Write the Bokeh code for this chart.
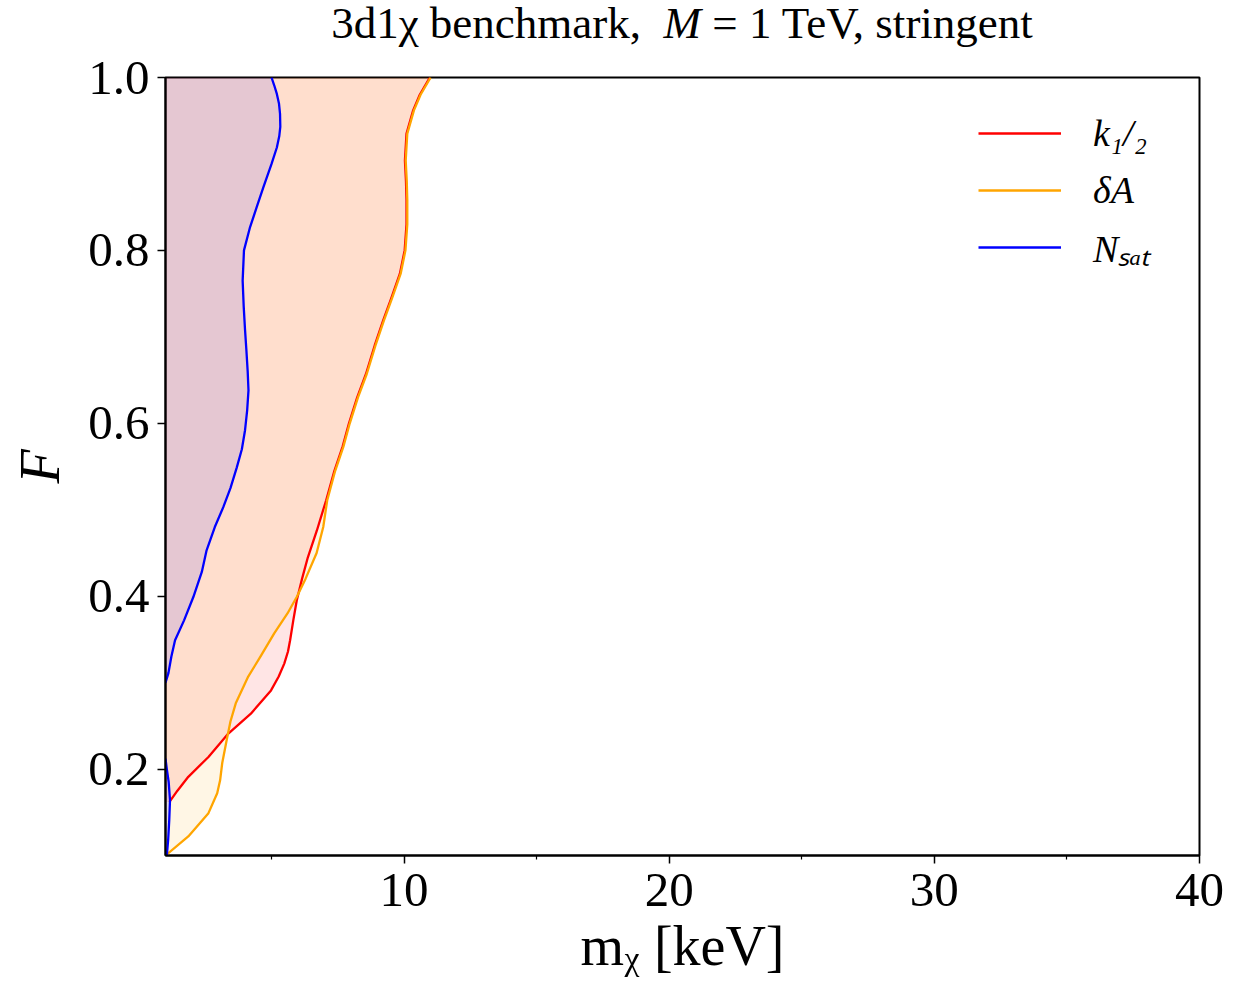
from bokeh.plotting import figure
from bokeh.layouts import column
from bokeh.models import Range1d, FixedTicker, PrintfTickFormatter, Legend, LegendItem, Div
from bokeh.embed import file_html
from bokeh.resources import INLINE

# ---- axis limits ----
m_min, m_max = 1.0, 40.0
F_min, F_max = 0.1, 1.0

# ---- N_sat contour (two branches) ----
nsat_F_upper = [0.300, 0.311, 0.330, 0.349, 0.372, 0.399, 0.428, 0.453, 0.480, 0.503,
                0.525, 0.549, 0.570, 0.592, 0.615, 0.638, 0.660, 0.685, 0.708, 0.735,
                0.765, 0.800, 0.827, 0.850, 0.873, 0.900, 0.919, 0.932, 0.943, 0.958,
                0.970, 0.981, 0.991, 1.000]
nsat_m_upper = [1.00, 1.11, 1.22, 1.36, 1.70, 2.05, 2.37, 2.55, 2.86, 3.18,
                3.45, 3.69, 3.88, 4.00, 4.08, 4.13, 4.10, 4.05, 4.00, 3.95,
                3.91, 3.96, 4.19, 4.44, 4.69, 5.00, 5.20, 5.29, 5.33, 5.32,
                5.28, 5.20, 5.10, 5.00]
nsat_F_lower = [0.100, 0.118, 0.140, 0.164, 0.185, 0.200, 0.212]
nsat_m_lower = [1.05, 1.10, 1.14, 1.17, 1.12, 1.05, 1.00]

# ---- k_{1/2} contour ----
k12_F = [0.162, 0.175, 0.191, 0.214, 0.241, 0.264, 0.291, 0.307, 0.322, 0.336,
         0.349, 0.372, 0.395, 0.420, 0.445, 0.476, 0.511, 0.545, 0.573, 0.600,
         0.630, 0.657, 0.690, 0.719, 0.745, 0.773, 0.800, 0.830, 0.858, 0.880,
         0.904, 0.935, 0.962, 0.980, 1.000]
k12_m = [1.15, 1.45, 1.86, 2.62, 3.37, 4.22, 4.98, 5.27, 5.48, 5.62,
         5.70, 5.82, 5.95, 6.15, 6.37, 6.71, 7.06, 7.37, 7.68, 7.92,
         8.23, 8.56, 8.89, 9.21, 9.52, 9.84, 10.02, 10.09, 10.09, 10.07,
         10.03, 10.09, 10.34, 10.59, 10.97]

# ---- delta A contour ----
dA_F = [0.100, 0.122, 0.149, 0.172, 0.187, 0.207, 0.234, 0.255, 0.276, 0.307,
        0.330, 0.357, 0.380, 0.399, 0.420, 0.450, 0.480, 0.511, 0.545, 0.573,
        0.600, 0.630, 0.657, 0.690, 0.719, 0.745, 0.773, 0.800, 0.830, 0.858,
        0.880, 0.904, 0.935, 0.962, 0.980, 1.000]
dA_m = [1.00, 1.86, 2.62, 2.95, 3.06, 3.14, 3.31, 3.45, 3.65, 4.12,
        4.58, 5.10, 5.60, 5.95, 6.28, 6.70, 6.95, 7.10, 7.40, 7.71,
        7.95, 8.26, 8.59, 8.92, 9.24, 9.55, 9.87, 10.05, 10.12, 10.12,
        10.10, 10.06, 10.12, 10.37, 10.62, 11.00]

# ---- ticks ----
x_ticks = [10, 20, 30, 40]
x_minor_ticks = [5, 15, 25, 35]
y_ticks = [0.2, 0.4, 0.6, 0.8, 1.0]

FONT = "Liberation Serif"

W, H = 1255, 986
HEAD_H = 47                       # height of the heading strip above the figure
B_LEFT, B_RIGHT, B_TOP, B_BOTTOM = 165, 56, 77 - HEAD_H, 131
# shift that puts the heading's centre over the centre of the plotting frame
HEAD_PAD = 2 * (B_LEFT + (W - B_LEFT - B_RIGHT) // 2) - W

heading = Div(
    text=('<div style="box-sizing: border-box; width: %dpx; padding-left: %dpx; '
          'font-family: \'Liberation Serif\'; font-size: 45px; line-height: %dpx; '
          'text-align: center; white-space: nowrap; color: black;">'
          '3d1\u03c7 benchmark,&nbsp; <i>M</i> = 1 TeV, stringent</div>') % (W, HEAD_PAD, HEAD_H),
    width=W, height=HEAD_H, margin=(0, 0, 0, 0))

p = figure(width=W, height=H - HEAD_H,
           x_range=Range1d(m_min, m_max), y_range=Range1d(F_min, F_max),
           output_backend="svg", toolbar_location=None,
           min_border_left=B_LEFT, min_border_right=B_RIGHT,
           min_border_top=B_TOP, min_border_bottom=B_BOTTOM,
           background_fill_color="white", border_fill_color="white",
           margin=(0, 0, 0, 0))

p.xgrid.visible = False
p.ygrid.visible = False
p.outline_line_color = "black"
p.outline_line_width = 2

for ax in (p.xaxis[0], p.yaxis[0]):
    ax.axis_line_color = "black"
    ax.axis_line_width = 2
    ax.major_tick_line_color = "black"
    ax.major_tick_line_width = 1.5
    ax.minor_tick_line_color = "black"
    ax.minor_tick_line_width = 1.2
    ax.major_tick_in = 0
    ax.major_tick_out = 8
    ax.minor_tick_in = 0
    ax.minor_tick_out = 4
    ax.major_label_text_font = FONT
    ax.major_label_text_font_size = "49px"
    ax.major_label_text_color = "black"
    ax.axis_label_text_font = FONT
    ax.axis_label_text_font_size = "56px"
    ax.axis_label_text_color = "black"

p.xaxis[0].ticker = FixedTicker(ticks=x_ticks, minor_ticks=x_minor_ticks)
p.yaxis[0].ticker = FixedTicker(ticks=y_ticks, minor_ticks=[])
p.xaxis[0].formatter = PrintfTickFormatter(format="%d")
p.yaxis[0].formatter = PrintfTickFormatter(format="%.1f")
p.xaxis[0].major_label_standoff = 10
p.yaxis[0].major_label_standoff = 8

p.xaxis[0].axis_label = "m\u1d6a [keV]"
p.xaxis[0].axis_label_text_font_style = "normal"
p.xaxis[0].axis_label_standoff = 6
p.yaxis[0].axis_label = "F"
p.yaxis[0].axis_label_text_font_style = "italic"
p.yaxis[0].axis_label_standoff = 14

# excluded regions: everything left of each contour
p.harea(x1=m_min, x2=k12_m, y=k12_F, fill_color="red", fill_alpha=0.1)
p.harea(x1=m_min, x2=dA_m, y=dA_F, fill_color="orange", fill_alpha=0.1)
p.harea(x1=m_min, x2=nsat_m_upper, y=nsat_F_upper, fill_color="blue", fill_alpha=0.1)
p.harea(x1=m_min, x2=nsat_m_lower, y=nsat_F_lower, fill_color="blue", fill_alpha=0.1)

LW = 2.3
r_k12 = p.line(k12_m, k12_F, line_color="red", line_width=LW, line_join="round")
r_dA = p.line(dA_m, dA_F, line_color="orange", line_width=LW, line_join="round")
r_nsat = p.line(nsat_m_upper, nsat_F_upper, line_color="blue", line_width=LW, line_join="round")
p.line(nsat_m_lower, nsat_F_lower, line_color="blue", line_width=LW, line_join="round")

# legend box anchored by its bottom-left corner, in pixels from the frame's bottom-left
legend = Legend(items=[LegendItem(label="k\u2081/\u2082", renderers=[r_k12]),
                       LegendItem(label="\u03b4A", renderers=[r_dA]),
                       LegendItem(label="N\u209b\u2090\u209c", renderers=[r_nsat])],
                location=(813, 582),
                border_line_color=None, background_fill_alpha=0,
                label_text_font=FONT, label_text_font_size="38px",
                label_text_font_style="italic", label_text_color="black",
                glyph_width=83, glyph_height=52, label_height=52,
                label_standoff=32, spacing=5, padding=24, margin=0)
p.add_layout(legend)

layout = column(heading, p, spacing=0, margin=(0, 0, 0, 0))
open("out.html", "w").write(file_html(layout, INLINE))
